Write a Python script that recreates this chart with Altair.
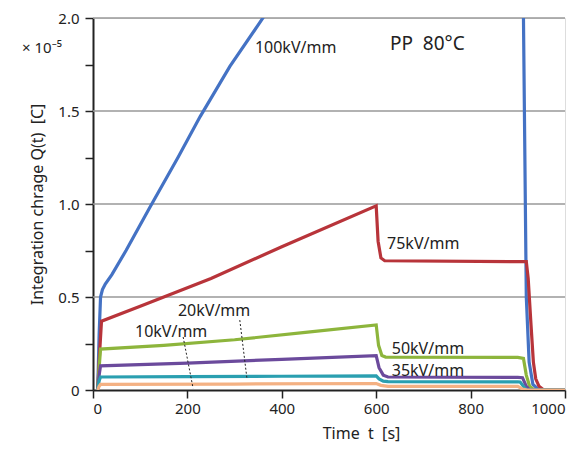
import altair as alt
import pandas as pd

series = ["100kV/mm", "75kV/mm", "50kV/mm", "35kV/mm", "20kV/mm", "10kV/mm"]
colors = ["#4472c4", "#b8343a", "#8db53c", "#6b4a9c", "#2a9fb0", "#f4b183"]

t_100 = [10, 13, 16, 20, 26, 40, 70, 120, 180, 227, 290, 360, 450, 600, 612, 900, 906, 912, 918, 924, 932, 945, 1000]
q_100 = [0, 0.3, 0.5, 0.54, 0.57, 0.62, 0.75, 0.98, 1.25, 1.47, 1.74, 2.0, 2.4, 3.0, 2.6, 2.6, 2.5, 2.0, 0.5, 0.15, 0.03, 0.0, 0.0]

t_75 = [10, 14, 18, 100, 250, 400, 600, 604, 610, 618, 900, 918, 922, 928, 933, 938, 945, 955, 1000]
q_75 = [0, 0.2, 0.37, 0.45, 0.6, 0.77, 0.99, 0.8, 0.71, 0.695, 0.69, 0.69, 0.6, 0.35, 0.15, 0.06, 0.02, 0.0, 0.0]

t_50 = [10, 13, 16, 150, 300, 450, 600, 605, 612, 620, 900, 912, 918, 925, 935, 1000]
q_50 = [0, 0.12, 0.22, 0.24, 0.27, 0.31, 0.35, 0.24, 0.185, 0.177, 0.175, 0.17, 0.08, 0.02, 0.0, 0.0]

t_35 = [10, 13, 16, 200, 400, 600, 606, 615, 625, 900, 910, 918, 925, 1000]
q_35 = [0, 0.08, 0.13, 0.145, 0.165, 0.185, 0.12, 0.08, 0.07, 0.068, 0.066, 0.02, 0.0, 0.0]

t_20 = [10, 13, 16, 200, 400, 600, 606, 615, 625, 900, 905, 915, 920, 1000]
q_20 = [0, 0.05, 0.07, 0.072, 0.074, 0.076, 0.06, 0.048, 0.045, 0.044, 0.043, 0.01, 0.0, 0.0]

t_10 = [10, 13, 16, 300, 600, 610, 625, 900, 910, 920, 1000]
q_10 = [0, 0.02, 0.03, 0.032, 0.035, 0.025, 0.02, 0.02, 0.005, 0.0, 0.0]

grid_values = [0.5, 1.0, 1.5, 2.0]

label_text = ["100kV/mm", "75kV/mm", "50kV/mm", "35kV/mm", "20kV/mm", "10kV/mm"]
label_t = [343, 623, 633, 633, 180, 89]
label_q = [1.81, 0.758, 0.194, 0.075, 0.40, 0.285]

leader_id = ["10", "10", "20", "20"]
leader_t = [191, 212, 311, 326]
leader_q = [0.285, 0.01, 0.376, 0.065]

ts = [t_100, t_75, t_50, t_35, t_20, t_10]
qs = [q_100, q_75, q_50, q_35, q_20, q_10]

rows = []
for s, tt, qq in zip(series, ts, qs):
    for i, (a, b) in enumerate(zip(tt, qq)):
        rows.append({"series": s, "i": i, "t": a, "Q": b})
df = pd.DataFrame(rows)

FONT = "Noto Sans"
INK = "#222222"

xscale = alt.Scale(domain=[0, 1000], nice=False)
yscale = alt.Scale(domain=[0, 2.0], nice=False)

x_axis = alt.Axis(values=[0, 200, 400, 600, 800, 1000], format="d", title="Time\u00a0\u00a0t\u00a0\u00a0[s]",
                  grid=False, domainColor=INK, domainWidth=2, tickColor=INK,
                  tickSize=8, tickWidth=1.5, labelFontSize=15, labelFont=FONT, labelColor=INK,
                  titleFont=FONT, titleFontSize=16, titleFontWeight="normal", titleColor=INK,
                  labelPadding=3, titlePadding=9, titleX=268)
y_axis = alt.Axis(values=[0, 0.25, 0.5, 0.75, 1.0, 1.25, 1.5, 1.75, 2.0],
                  labelExpr="datum.value == 0 ? '0' : ((datum.value * 2) % 1 == 0 ? format(datum.value, '.1f') : '')",
                  title="Integration chrage Q(t)\u00a0\u00a0[C]",
                  grid=False, domainColor=INK, domainWidth=2, tickColor=INK,
                  tickSize=8, tickWidth=1.5, labelFontSize=15, labelFont=FONT, labelColor=INK,
                  titleFont=FONT, titleFontSize=16, titleFontWeight="normal", titleColor=INK,
                  labelPadding=6, titlePadding=12)

grid = alt.Chart(pd.DataFrame({"g": grid_values})).mark_rule(color="#999999", strokeWidth=1.5).encode(
    y=alt.Y("g:Q", scale=yscale, axis=y_axis)
)

lines = alt.Chart(df).mark_line(strokeWidth=3.2, clip=True).encode(
    x=alt.X("t:Q", scale=xscale, axis=x_axis),
    y=alt.Y("Q:Q", scale=yscale),
    color=alt.Color("series:N", scale=alt.Scale(domain=series, range=colors), legend=None),
    order=alt.Order("i:Q"),
    detail="series:N",
)

leaders = alt.Chart(pd.DataFrame({"id": leader_id, "t": leader_t, "Q": leader_q})).mark_line(
    color=INK, strokeWidth=1, strokeDash=[2, 2]
).encode(x=alt.X("t:Q", scale=xscale), y=alt.Y("Q:Q", scale=yscale), detail="id:N")

labels = alt.Chart(pd.DataFrame({"text": label_text, "t": label_t, "Q": label_q})).mark_text(
    align="left", baseline="alphabetic", fontSize=16, font=FONT, color=INK
).encode(x=alt.X("t:Q", scale=xscale), y=alt.Y("Q:Q", scale=yscale), text="text:N")

pp = alt.Chart(pd.DataFrame({"text": ["PP\u00a0\u00a080\u00b0C"], "t": [629], "Q": [1.83]})).mark_text(
    align="left", baseline="alphabetic", fontSize=19, font=FONT, color=INK
).encode(x=alt.X("t:Q", scale=xscale), y=alt.Y("Q:Q", scale=yscale), text="text:N")

mult = alt.Chart(pd.DataFrame({"text": ["\u00d7\u00a010\u207b\u2075"]})).mark_text(
    align="left", baseline="middle", fontSize=15, font=FONT, color=INK
).encode(x=alt.value(-71), y=alt.value(30), text="text:N")

chart = alt.layer(grid, lines, leaders, labels, pp, mult).properties(
    width=472, height=372,
    autosize=alt.AutoSizeParams(type="none"),
    padding={"left": 93, "top": 18, "right": 17, "bottom": 66},
).configure_view(stroke=None).configure(background="white")

chart.save("out.html", embed_options={"renderer": "svg", "actions": False})
